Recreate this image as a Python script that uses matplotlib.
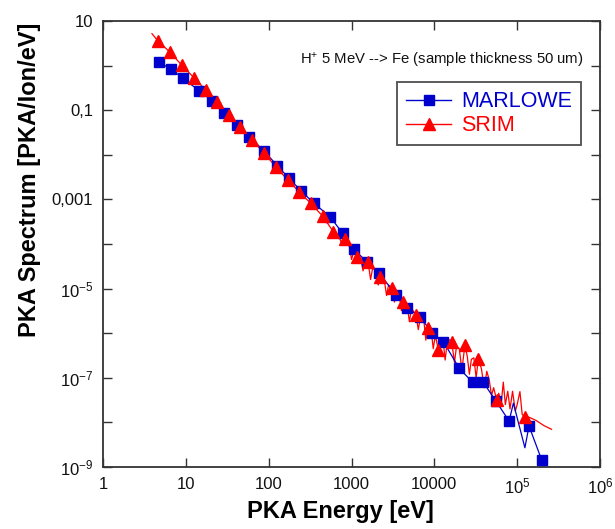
import matplotlib
matplotlib.use("Agg")
import matplotlib.pyplot as plt
from matplotlib.lines import Line2D
from matplotlib.ticker import FixedLocator, FixedFormatter, NullLocator

plt.rcParams['font.family'] = ['Liberation Sans', 'DejaVu Sans']
plt.rcParams['mathtext.fontset'] = 'custom'
plt.rcParams['mathtext.rm'] = 'Liberation Sans'
plt.rcParams['mathtext.it'] = 'Liberation Sans:italic'
plt.rcParams['mathtext.bf'] = 'Liberation Sans:bold'

# ---------------- data ----------------
marlowe_x = [4.78, 6.62, 9.3, 14.4, 20.9, 28.9, 41.1, 58.4, 87.9, 127, 176, 245, 352, 550,
             783, 1072, 1527, 2168, 3447, 4720, 6720, 9460, 12830, 20000, 29000, 39000,
             55000, 80000, 90000, 124000, 139000, 198000]
marlowe_y = [1.19, 0.826, 0.519, 0.274, 0.161, 0.0851, 0.0459, 0.0255, 0.0122, 0.0057,
             0.00297, 0.00157, 0.00082, 4.1e-4, 1.74e-4, 7.6e-5, 4.0e-5, 2.2e-5, 7.2e-6,
             3.6e-6, 2.34e-6, 1.0e-6, 6.5e-7, 1.63e-7, 7.9e-8, 7.9e-8, 3.07e-8, 1.07e-8,
             2.7e-8, 2.7e-9, 8.3e-9, 1.43e-9]
marlowe_marked = [True] * 28 + [False, False, True, True]

srim_mark_x = [4.57, 6.44, 8.9, 12.7, 17.4, 23.6, 33.5, 45.1, 62.4, 88.6, 121.6, 170, 232,
               322, 449, 603, 835, 1176, 1596, 2210, 3060, 4225, 6010, 8450, 11170, 16200,
               23400, 34000, 56600, 124000]
srim_mark_y = [3.62, 1.99, 1.03, 0.52, 0.284, 0.155, 0.078, 0.0427, 0.0215, 0.0108, 0.0054,
               0.00272, 0.00149, 0.00082, 4.2e-4, 1.89e-4, 1.27e-4, 5.2e-5, 4.0e-5, 1.79e-5,
               1.02e-5, 5.1e-6, 2.56e-6, 1.29e-6, 4.2e-7, 6.5e-7, 5.4e-7, 2.7e-7, 3.18e-8,
               1.34e-8]

srim_line_x = [3.9, 4.57, 6.44, 8.9, 12.7, 17.4, 23.6, 33.5, 45.1, 62.4, 88.6, 121.6, 170,
               232, 322, 449, 603, 700, 760, 835, 950, 1000, 1080, 1176, 1300, 1380, 1450,
               1596, 1700, 1800, 2000, 2100, 2210, 2500, 2650, 2800, 3060, 3300, 3500, 3800,
               4000, 4225, 4700, 5000, 5300, 6010, 6400, 6800, 7500, 7900, 8450, 9200, 9700,
               10300, 11170, 12000, 12800, 13500, 14500, 16200, 17500, 18500, 20000, 21500,
               23400, 25000, 26500, 28000, 30000, 32000, 34000, 37000, 40000, 43000, 46000,
               49000, 52000, 56600, 60000, 64000, 68000, 72000, 77000, 82000, 88000, 95000,
               100000, 108000, 115000, 124000, 140000, 170000, 210000, 260000]
srim_line_y = [5.2, 3.62, 1.99, 1.03, 0.52, 0.284, 0.155, 0.078, 0.0427, 0.0215, 0.0108,
               0.0054, 0.00272, 0.00149, 0.00082, 4.2e-4, 1.89e-4, 1.6e-4, 1.0e-4, 1.27e-4,
               8.5e-5, 4.5e-5, 7.2e-5, 5.2e-5, 4.6e-5, 2.5e-5, 4.2e-5, 3.6e-5, 1.6e-5,
               2.9e-5, 2.4e-5, 1.2e-5, 1.79e-5, 1.45e-5, 7e-6, 1.2e-5, 1.02e-5, 5e-6, 8.0e-6,
               6.8e-6, 3.2e-6, 5.1e-6, 4.3e-6, 1.8e-6, 3.6e-6, 2.56e-6, 1.2e-6, 2.3e-6,
               1.8e-6, 7e-7, 1.29e-6, 1.1e-6, 4.5e-7, 9e-7, 4.2e-7, 8e-7, 6.5e-7, 2.5e-7,
               7.5e-7, 6.5e-7, 2.2e-7, 5e-7, 4.5e-7, 1.5e-7, 5.4e-7, 3e-7, 1.2e-7, 2.6e-7,
               2.8e-7, 1.0e-7, 2.7e-7, 1.6e-7, 6e-8, 1.4e-7, 9e-8, 4e-8, 6e-8, 3.18e-8,
               4.5e-8, 2.5e-8, 8e-8, 2.5e-8, 5e-8, 2e-8, 5e-8, 1.8e-8, 2.5e-8, 4.9e-8,
               1.5e-8, 1.34e-8, 1.3e-8, 1.1e-8, 8.5e-9, 7.0e-9]

x_ticks = [1, 10, 100, 1000, 10000, 1e5, 1e6]
x_tick_labels = ['1', '10', '100', '1000', '10000', r'10$^{5}$', r'10$^{6}$']
y_ticks = [1e-9, 1e-8, 1e-7, 1e-6, 1e-5, 1e-4, 1e-3, 1e-2, 1e-1, 1, 10]
y_tick_labels = [r'10$^{-9}$', '', r'10$^{-7}$', '', r'10$^{-5}$', '', '0,001', '', '0,1', '', '10']

title_text = r'H$^{+}$ 5 MeV --> Fe (sample thickness 50 um)'
x_label = 'PKA Energy [eV]'
y_label = 'PKA Spectrum [PKA/Ion/eV]'

BLUE = '#0000CC'
RED = '#FF0000'

# ---------------- plot ----------------
fig = plt.figure(figsize=(6.15, 5.29), dpi=100)
ax = fig.add_axes([0.1675, 0.1172, 0.8081, 0.8431])
ax.set_xscale('log')
ax.set_yscale('log')
ax.set_xlim(1, 1e6)
ax.set_ylim(1e-9, 10)

ax.plot(srim_line_x, srim_line_y, color=RED, lw=0.9, zorder=2)
ax.plot(marlowe_x, marlowe_y, color=BLUE, lw=0.9, marker='s', markersize=7.5,
        markevery=marlowe_marked, markerfacecolor=BLUE, markeredgecolor=BLUE, zorder=3)
ax.plot(srim_mark_x, srim_mark_y, linestyle='none', marker='^', markersize=8.5,
        color=RED, zorder=4)

ax.xaxis.set_major_locator(FixedLocator(x_ticks))
ax.xaxis.set_major_formatter(FixedFormatter(x_tick_labels))
ax.xaxis.set_minor_locator(NullLocator())
ax.yaxis.set_major_locator(FixedLocator(y_ticks))
ax.yaxis.set_major_formatter(FixedFormatter(y_tick_labels))
ax.yaxis.set_minor_locator(NullLocator())

ax.tick_params(which='major', direction='in', length=6.5, width=1.0, color='#333333',
               top=True, right=True, labelsize=12, pad=7, labelcolor='#111111')
for s in ax.spines.values():
    s.set_linewidth(1.3)
    s.set_color('#333333')

ax.set_xlabel(x_label, fontsize=17, fontweight='bold')
ax.set_ylabel(y_label, fontsize=17, fontweight='bold')
ax.xaxis.set_label_coords(0.478, -0.075)
ax.yaxis.set_label_coords(-0.125, 0.643)

ax.text(0.396, 0.912, title_text, transform=ax.transAxes, fontsize=10.7,
        ha='left', va='center', color='#111111')

handles = [Line2D([], [], color=BLUE, lw=1.0, marker='s', markersize=7),
           Line2D([], [], color=RED, lw=1.0, marker='^', markersize=8)]
leg = ax.legend(handles, ['MARLOWE', 'SRIM'], loc='upper left',
                bbox_to_anchor=(0.5915, 0.863), fontsize=15.5, frameon=True,
                fancybox=False, handlelength=2.1, handletextpad=0.45,
                labelspacing=0.15, borderpad=0.42, borderaxespad=0.0)
leg.get_frame().set_edgecolor('#222222')
leg.get_frame().set_linewidth(1.3)
for t, c in zip(leg.get_texts(), [BLUE, RED]):
    t.set_color(c)

fig.savefig('out.png', dpi=100)
